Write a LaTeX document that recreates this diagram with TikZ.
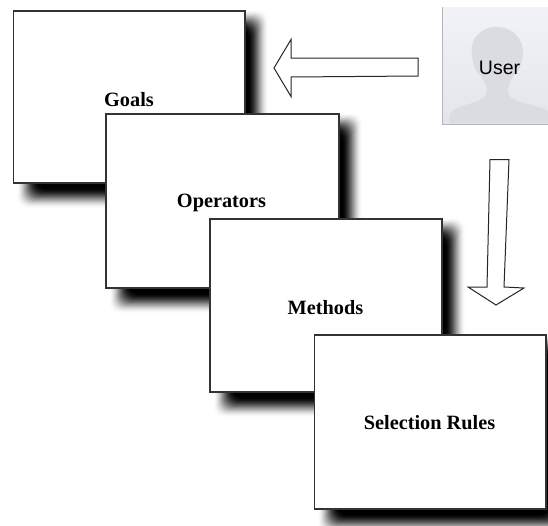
\documentclass[tikz,border=0pt]{standalone}
\usepackage{fontspec}
\setmainfont{Liberation Serif}
\newfontfamily\usersans{Liberation Sans}
\definecolor{usertop}{HTML}{F1F3F8}
\definecolor{userbot}{HTML}{E3E5EC}
\definecolor{usersil}{HTML}{DBDCE1}
\definecolor{useredge}{HTML}{B4B6BA}
\newcommand{\softshadow}[4]{%
  \foreach \i in {0,...,20}{%
    \pgfmathsetmacro{\t}{(\i+1)/21}%
    \pgfmathsetmacro{\lev}{100*\t*\t*(3-2*\t)}%
    \fill[black!\lev!white,rounded corners=10pt]
      (#1+4.5+\i,#2+\i) rectangle (#3+24-\i,#4+26-\i);
  }%
}
\tikzset{
  card/.style={draw=black!80,line width=1.5pt,fill=white,rectangle,inner sep=0pt,anchor=north west},
  cardlabel/.style={font=\bfseries\fontsize{20.3}{22}\selectfont,text=black,inner sep=0pt},
  blockarrow/.style={draw=black!85,line width=1pt,fill=white,line join=miter}
}
\begin{document}
\begin{tikzpicture}[x=1pt,y=-1pt]
\useasboundingbox (0,0) rectangle (548,525);
\clip (0,0) rectangle (548,525);
\fill[white] (0,0) rectangle (548,525);

% user picture
\shade[top color=usertop,bottom color=userbot] (442,7) rectangle (548,124);
\draw[useredge,line width=0.8pt] (442,7) -- (442,124) -- (548,124);
\fill[usersil]
  (449,123) .. controls (449,113) and (452,109) .. (462,106)
  .. controls (475,102) and (487,100) .. (487,91)
  .. controls (487,86) and (484,82) .. (481,76)
  .. controls (472,70) and (470,50) .. (473,42)
  .. controls (478,30) and (490,26) .. (499,27)
  .. controls (512,28) and (523,38) .. (523,52)
  .. controls (523,64) and (518,72) .. (513,76)
  .. controls (510,82) and (507,88) .. (508,93)
  .. controls (510,101) and (525,103) .. (535,106)
  .. controls (542,108) and (548,110) .. (548,112)
  -- (548,123) -- cycle;
\node[inner sep=0pt,font=\usersans\fontsize{19.5}{22}\selectfont,text=black] (user) at (499.5,68) {User};

% cards
\softshadow{12.5}{10}{244}{182}
\node[card,minimum width=231.5pt,minimum height=172pt] (goals) at (12.5,10) {};
\node[cardlabel] (goalslabel) at (129,100) {Goals};

\softshadow{105}{113}{338}{287}
\node[card,minimum width=233pt,minimum height=174pt] (operators) at (105,113) {};
\node[cardlabel] (operatorslabel) at (221.5,203) {Operators};

\softshadow{209}{218}{441}{391}
\node[card,minimum width=232pt,minimum height=173pt] (methods) at (209,218) {};
\node[cardlabel] (methodslabel) at (325.5,307.5) {Methods};

\softshadow{313.5}{334}{545}{508}
\node[card,minimum width=231.5pt,minimum height=174pt] (rules) at (313.5,334) {};
\node[cardlabel] (ruleslabel) at (429.5,423) {Selection Rules};

% block arrows
\draw[blockarrow] (418,58) -- (291,58) -- (291,39.5) -- (274,68) -- (291,96.5) -- (291,77) -- (418,76) -- cycle;
\draw[blockarrow] (490,159.5) -- (509,159.5) -- (504,287) -- (524,288) -- (496,305) -- (468,287) -- (487,287) -- cycle;
\end{tikzpicture}
\end{document}
